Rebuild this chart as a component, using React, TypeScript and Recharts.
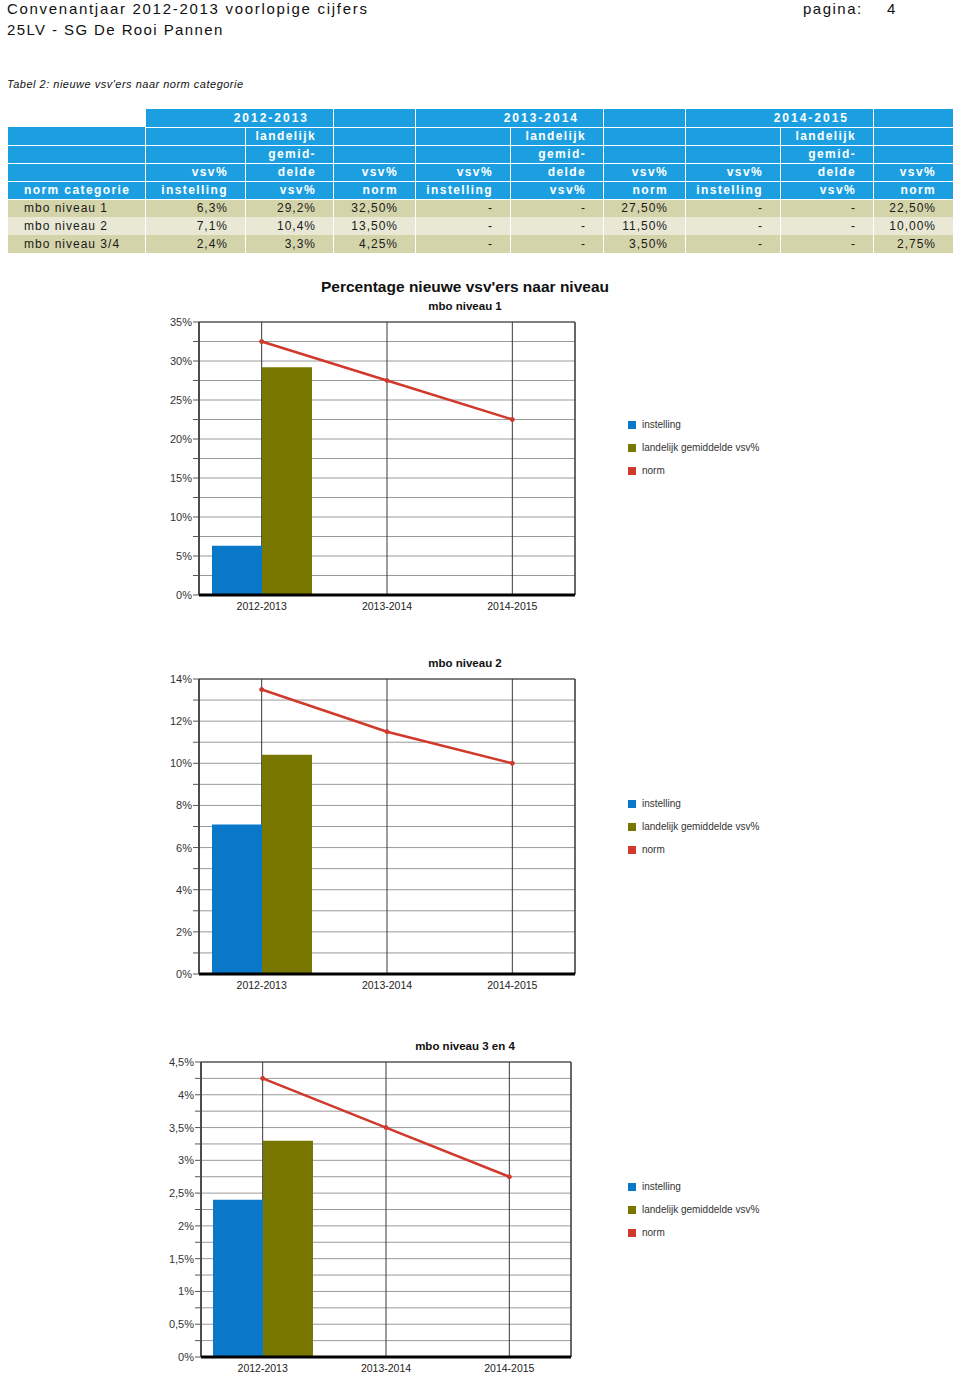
import React from 'react';
import { ComposedChart, Bar, Line, XAxis, YAxis, CartesianGrid, ReferenceArea } from 'recharts';

// categories
const YEARS = ['2012-2013', '2013-2014', '2014-2015'];
const LEVELS = ['mbo niveau 1', 'mbo niveau 2', 'mbo niveau 3/4'];
const CHART_TITLES = ['mbo niveau 1', 'mbo niveau 2', 'mbo niveau 3 en 4'];

// series values (null = nog geen cijfer)
const instellingN1 = [6.3, null, null];
const landelijkN1 = [29.2, null, null];
const normN1 = [32.5, 27.5, 22.5];

const instellingN2 = [7.1, null, null];
const landelijkN2 = [10.4, null, null];
const normN2 = [13.5, 11.5, 10.0];

const instellingN34 = [2.4, null, null];
const landelijkN34 = [3.3, null, null];
const normN34 = [4.25, 3.5, 2.75];

// y-axis ticks (every other one gets a label)
const ticksN1 = [0, 2.5, 5, 7.5, 10, 12.5, 15, 17.5, 20, 22.5, 25, 27.5, 30, 32.5, 35];
const ticksN2 = [0, 1, 2, 3, 4, 5, 6, 7, 8, 9, 10, 11, 12, 13, 14];
const ticksN34 = [0, 0.25, 0.5, 0.75, 1, 1.25, 1.5, 1.75, 2, 2.25, 2.5, 2.75, 3, 3.25, 3.5, 3.75, 4, 4.25, 4.5];

const BLUE = '#0a78c8';
const OLIVE = '#787800';
const RED = '#d0392b';
const HEAD_BLUE = '#1c9fe1';
const FONT = '"Liberation Sans", Arial, Helvetica, sans-serif';

const COL_W = [138, 100, 88, 82, 95, 93, 82, 95, 93, 80];

const fmt1 = (v: number | null) => (v == null ? '-' : v.toFixed(1).replace('.', ',') + '%');
const fmt2 = (v: number | null) => (v == null ? '-' : v.toFixed(2).replace('.', ',') + '%');
const pct = (v: number) => String(v).replace('.', ',') + '%';

const tableRows = [
  { name: LEVELS[0], inst: instellingN1, land: landelijkN1, norm: normN1 },
  { name: LEVELS[1], inst: instellingN2, land: landelijkN2, norm: normN2 },
  { name: LEVELS[2], inst: instellingN34, land: landelijkN34, norm: normN34 },
];

const ROW_H = 18;

const headCell: React.CSSProperties = {
  background: HEAD_BLUE,
  color: '#fff',
  fontWeight: 'bold',
  fontSize: 12,
  letterSpacing: 1.4,
  lineHeight: '16px',
  padding: '0 17px 0 0',
  textAlign: 'right',
  whiteSpace: 'nowrap',
  overflow: 'hidden',
  borderLeft: '1px solid rgba(255,255,255,0.45)',
  borderRight: '1px solid rgba(255,255,255,0.45)',
  borderBottom: '1px solid rgba(255,255,255,0.2)',
};

const dataCell: React.CSSProperties = {
  fontSize: 12,
  letterSpacing: 1,
  color: '#1a1a1a',
  lineHeight: '16px',
  padding: '0 17px 0 0',
  textAlign: 'right',
  whiteSpace: 'nowrap',
  overflow: 'hidden',
  borderLeft: '1px solid rgba(255,255,255,0.5)',
  borderRight: '1px solid rgba(255,255,255,0.5)',
};

const trStyle: React.CSSProperties = { height: ROW_H };

const NormTable = () => (
  <table
    style={{
      position: 'absolute',
      left: 7,
      top: 109,
      width: 946,
      tableLayout: 'fixed',
      borderCollapse: 'collapse',
      fontFamily: FONT,
    }}
  >
    <colgroup>
      {COL_W.map((w, i) => (
        <col key={i} style={{ width: w }} />
      ))}
    </colgroup>
    <tbody>
      <tr style={trStyle}>
        <td style={{ ...headCell, background: '#fff', border: 'none' }} />
        {YEARS.map((y) => (
          <React.Fragment key={y}>
            <td colSpan={2} style={{ ...headCell, letterSpacing: 2, paddingRight: 24, borderBottom: '1px solid rgba(255,255,255,0.45)' }}>
              {y}
            </td>
            <td style={{ ...headCell, borderBottom: '1px solid rgba(255,255,255,0.45)' }} />
          </React.Fragment>
        ))}
      </tr>
      {['landelijk', 'gemid-'].map((w) => (
        <tr key={w} style={trStyle}>
          <td style={headCell} />
          {YEARS.map((y) => (
            <React.Fragment key={y}>
              <td style={headCell} />
              <td style={headCell}>{w}</td>
              <td style={headCell} />
            </React.Fragment>
          ))}
        </tr>
      ))}
      <tr style={trStyle}>
        <td style={headCell} />
        {YEARS.map((y) => (
          <React.Fragment key={y}>
            <td style={headCell}>vsv%</td>
            <td style={headCell}>delde</td>
            <td style={headCell}>vsv%</td>
          </React.Fragment>
        ))}
      </tr>
      <tr style={trStyle}>
        <td style={{ ...headCell, textAlign: 'left', paddingLeft: 16 }}>norm categorie</td>
        {YEARS.map((y) => (
          <React.Fragment key={y}>
            <td style={headCell}>instelling</td>
            <td style={headCell}>vsv%</td>
            <td style={headCell}>norm</td>
          </React.Fragment>
        ))}
      </tr>
      {tableRows.map((r, ri) => {
        const bg = ri % 2 === 0 ? '#d4d4aa' : '#e8e8d5';
        return (
          <tr key={r.name} style={trStyle}>
            <td style={{ ...dataCell, background: bg, textAlign: 'left', paddingLeft: 16 }}>{r.name}</td>
            {YEARS.map((y, i) => (
              <React.Fragment key={y}>
                <td style={{ ...dataCell, background: bg }}>{fmt1(r.inst[i])}</td>
                <td style={{ ...dataCell, background: bg }}>{fmt1(r.land[i])}</td>
                <td style={{ ...dataCell, background: bg }}>{fmt2(r.norm[i])}</td>
              </React.Fragment>
            ))}
          </tr>
        );
      })}
    </tbody>
  </table>
);

const Legend = ({ top }: { top: number }) => (
  <div style={{ position: 'absolute', left: 628, top, fontFamily: FONT, fontSize: 10, color: '#333' }}>
    {[
      { c: BLUE, t: 'instelling' },
      { c: OLIVE, t: 'landelijk gemiddelde vsv%' },
      { c: RED, t: 'norm' },
    ].map((it) => (
      <div key={it.t} style={{ height: 23, display: 'flex', alignItems: 'center', whiteSpace: 'nowrap' }}>
        <span style={{ display: 'inline-block', width: 8, height: 8, background: it.c, marginRight: 6 }} />
        {it.t}
      </div>
    ))}
  </div>
);

interface ChartProps {
  inst: (number | null)[];
  land: (number | null)[];
  norm: number[];
  ticks: number[];
  plotLeft: number;
  plotRight: number;
  plotTop: number;
  plotBottom: number;
}

const MT = 10;
const MR = 10;
const XH = 25;
const CHART_LEFT = 150;

const NiveauChart = ({ inst, land, norm, ticks, plotLeft, plotRight, plotTop, plotBottom }: ChartProps) => {
  const data = YEARS.map((year, i) => ({ year, instelling: inst[i], landelijk: land[i], norm: norm[i] }));
  const max = ticks[ticks.length - 1];
  const width = plotRight + MR - CHART_LEFT;
  const height = plotBottom - plotTop + MT + XH;

  const YTick = ({ x, y, payload, index }: any) =>
    index % 2 === 0 ? (
      <text x={x} y={y} dy={4} textAnchor="end" fontSize={11} fontFamily={FONT} fill="#333">
        {pct(payload.value)}
      </text>
    ) : (
      <g />
    );

  return (
    <div style={{ position: 'absolute', left: CHART_LEFT, top: plotTop - MT }}>
      <ComposedChart
        width={width}
        height={height}
        data={data}
        margin={{ top: MT, right: MR, bottom: 0, left: 0 }}
        barGap={0}
      >
        <CartesianGrid vertical={false} stroke="#9a9a9a" />
        <CartesianGrid horizontal={false} stroke="#3a3a3a" />
        <XAxis
          dataKey="year"
          tickLine={false}
          axisLine={{ stroke: '#000', strokeWidth: 3 }}
          height={XH}
          tick={{ fontSize: 10.5, fontFamily: FONT, fill: '#222' }}
        />
        <YAxis
          type="number"
          domain={[0, max]}
          ticks={ticks}
          interval={0}
          width={plotLeft - CHART_LEFT}
          tickSize={6}
          tickMargin={1}
          axisLine={{ stroke: '#333' }}
          tickLine={{ stroke: '#555' }}
          tick={<YTick />}
        />
        <ReferenceArea y1={0} y2={max} fill="none" fillOpacity={0} stroke="#333" strokeWidth={1} />
        <Bar dataKey="instelling" fill={BLUE} barSize={50} isAnimationActive={false} />
        <Bar dataKey="landelijk" fill={OLIVE} barSize={50} isAnimationActive={false} />
        <Line
          type="linear"
          dataKey="norm"
          stroke={RED}
          strokeWidth={2.5}
          dot={{ r: 2, fill: RED, stroke: RED, strokeWidth: 1 }}
          isAnimationActive={false}
        />
      </ComposedChart>
    </div>
  );
};

const subTitle = (text: string, centerY: number) => (
  <div
    style={{
      position: 'absolute',
      left: 0,
      width: 930,
      top: centerY - 7,
      lineHeight: '14px',
      textAlign: 'center',
      fontFamily: FONT,
      fontWeight: 'bold',
      fontSize: 11.5,
      color: '#111',
    }}
  >
    {text}
  </div>
);

export default function App() {
  return (
    <div
      style={{
        position: 'absolute',
        left: 0,
        top: 0,
        width: 960,
        height: 1373,
        background: '#fff',
        fontFamily: FONT,
        color: '#111',
      }}
    >
      <div style={{ position: 'absolute', left: 7, top: 0, fontSize: 15, letterSpacing: 1.7, lineHeight: '18px' }}>
        Convenantjaar 2012-2013 voorlopige cijfers
      </div>
      <div style={{ position: 'absolute', left: 803, top: 0, fontSize: 15, letterSpacing: 1.5, lineHeight: '18px' }}>
        pagina:
      </div>
      <div style={{ position: 'absolute', left: 887, top: 0, fontSize: 15, lineHeight: '18px' }}>4</div>
      <div style={{ position: 'absolute', left: 7, top: 21, fontSize: 15, letterSpacing: 1.4, lineHeight: '18px' }}>
        25LV - SG De Rooi Pannen
      </div>
      <div
        style={{ position: 'absolute', left: 7, top: 77, fontSize: 11, fontStyle: 'italic', letterSpacing: 0.5, lineHeight: '14px' }}
      >
        Tabel 2: nieuwe vsv'ers naar norm categorie
      </div>

      <NormTable />

      <div
        style={{
          position: 'absolute',
          left: 0,
          width: 930,
          top: 278,
          lineHeight: '18px',
          textAlign: 'center',
          fontWeight: 'bold',
          fontSize: 15.5,
        }}
      >
        Percentage nieuwe vsv'ers naar niveau
      </div>
      {subTitle(CHART_TITLES[0], 306)}
      <NiveauChart inst={instellingN1} land={landelijkN1} norm={normN1} ticks={ticksN1} plotLeft={199} plotRight={575} plotTop={322} plotBottom={595} />
      <Legend top={413} />

      {subTitle(CHART_TITLES[1], 663)}
      <NiveauChart inst={instellingN2} land={landelijkN2} norm={normN2} ticks={ticksN2} plotLeft={199} plotRight={575} plotTop={679} plotBottom={974} />
      <Legend top={792} />

      {subTitle(CHART_TITLES[2], 1046)}
      <NiveauChart inst={instellingN34} land={landelijkN34} norm={normN34} ticks={ticksN34} plotLeft={201} plotRight={571} plotTop={1062} plotBottom={1357} />
      <Legend top={1175} />
    </div>
  );
}
